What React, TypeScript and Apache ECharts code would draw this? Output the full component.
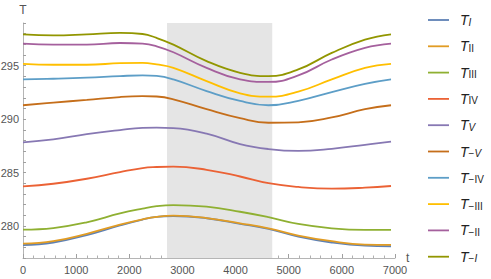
import React, { useEffect, useRef } from "react";
import * as echarts from "echarts";

// time samples (t)
const tValues = [0, 570, 1200, 1825, 2250, 2515, 2830, 3455, 4085, 4620, 5180, 5810, 6435, 6925];

// series values (T) at the samples above
const T_I = [278.2, 278.45, 279.15, 280.05, 280.6, 280.85, 280.93, 280.72, 280.2, 279.72, 279.0, 278.45, 278.15, 278.1];
const T_II = [278.35, 278.58, 279.27, 280.12, 280.62, 280.85, 280.96, 280.74, 280.25, 279.78, 279.1, 278.57, 278.26, 278.23];
const T_III = [279.66, 279.8, 280.34, 281.17, 281.62, 281.85, 281.95, 281.8, 281.33, 280.82, 280.19, 279.78, 279.63, 279.63];
const T_IV = [283.7, 283.95, 284.42, 285.04, 285.42, 285.52, 285.56, 285.26, 284.63, 284.0, 283.65, 283.49, 283.58, 283.74];
const T_V = [287.83, 288.1, 288.6, 288.98, 289.18, 289.2, 289.16, 288.65, 287.67, 287.2, 287.02, 287.22, 287.6, 287.9];
const T_mV = [291.3, 291.55, 291.8, 292.07, 292.15, 292.12, 291.86, 290.93, 290.09, 289.66, 289.7, 290.16, 290.93, 291.3];
const T_mIV = [293.72, 293.78, 293.88, 294.03, 294.1, 294.05, 293.72, 292.63, 291.7, 291.3, 291.72, 292.54, 293.3, 293.72];
const T_mIII = [295.18, 295.09, 295.09, 295.24, 295.27, 295.12, 294.8, 293.56, 292.42, 292.1, 292.57, 293.72, 294.8, 295.18];
const T_mII = [297.07, 296.98, 296.98, 297.13, 297.07, 296.82, 296.26, 294.8, 293.72, 293.48, 294.09, 295.58, 296.67, 297.07];
const T_mI = [297.94, 297.84, 297.94, 298.07, 297.97, 297.6, 296.98, 295.43, 294.34, 294.03, 294.65, 296.2, 297.44, 297.94];

// legend subscripts
const subscripts = ["I", "II", "III", "IV", "V", "−V", "−IV", "−III", "−II", "−I"];
const seriesValues = [T_I, T_II, T_III, T_IV, T_V, T_mV, T_mIV, T_mIII, T_mII, T_mI];
const colors = ["#5E81B5", "#E19C24", "#8FB032", "#EB6235", "#8778B3", "#C56E1A", "#5D9EC7", "#FFBF00", "#A5609D", "#929600"];

// shaded interval on t
const shadedRange = [2710, 4690];

const FONT = "'Liberation Sans', Arial, sans-serif";

function subRich(sub: string): string {
  let out = "";
  let rest = sub;
  if (rest.startsWith("−")) {
    out += "{s|−}";
    rest = rest.slice(1);
  }
  if (rest.length === 1) out += `{si|${rest}}`;
  else out += `{s|${rest}}`;
  return out;
}

export default function App() {
  const ref = useRef<HTMLDivElement>(null);
  useEffect(() => {
    if (!ref.current) return;
    const chart = echarts.init(ref.current, null, { renderer: "svg" });
    const names = subscripts.map((s) => "T" + s);
    const lineSeries = names.map((name, i) => ({
      name,
      type: "line",
      data: tValues.map((t, j) => [t, seriesValues[i][j]]),
      smooth: 0.45,
      symbol: "none",
      showSymbol: false,
      z: 3,
      lineStyle: { color: colors[i], width: 1.8 },
      itemStyle: { color: colors[i] },
    }));
    const option: any = {
      animation: false,
      backgroundColor: "#ffffff",
      grid: { left: 23, right: 96, top: 23, bottom: 21, containLabel: false, outerBoundsMode: "none" },
      legend: {
        data: names,
        orient: "vertical",
        left: 428,
        top: 9,
        padding: 0,
        itemWidth: 21,
        itemHeight: 14,
        itemGap: 4.3,
        icon: "path://M0,0M21,14M0,6.1L21,6.1L21,7.9L0,7.9Z",
        formatter: (name: string) => `{t|T}${subRich(name.slice(1))}`,
        textStyle: {
          color: "#222",
          padding: [0, 0, 0, 6],
          rich: {
            t: { fontSize: 14, fontStyle: "italic", fontFamily: FONT, color: "#222", lineHeight: 14, padding: [4, 0, 4, 0] },
            s: { fontSize: 10, fontFamily: FONT, color: "#222", lineHeight: 10, verticalAlign: "bottom" },
            si: { fontSize: 10, fontStyle: "italic", fontFamily: FONT, color: "#222", lineHeight: 10, verticalAlign: "bottom" },
          },
        },
      },
      xAxis: {
        type: "value",
        min: 0,
        max: 7000,
        interval: 1000,
        name: "t",
        nameLocation: "end",
        nameGap: 11,
        nameTextStyle: { color: "#555", fontSize: 12, fontFamily: FONT },
        axisLine: { show: true, lineStyle: { color: "#b5b5b5", width: 1 } },
        axisTick: { show: true, inside: true, length: 4, lineStyle: { color: "#a0a0a0" } },
        minorTick: { show: true, splitNumber: 5, length: 2.5, lineStyle: { color: "#b0b0b0" } },
        axisLabel: { color: "#555", fontSize: 11, fontFamily: FONT, margin: 6, formatter: (v: number) => String(v) },
        splitLine: { show: false },
      },
      yAxis: {
        type: "value",
        min: 277,
        max: 299,
        interval: 1,
        name: "T",
        nameLocation: "end",
        nameGap: 7,
        nameTextStyle: { color: "#555", fontSize: 12, fontFamily: FONT, align: "center" },
        axisLine: { show: true, lineStyle: { color: "#b5b5b5", width: 1 } },
        axisTick: { show: true, inside: true, length: 3, lineStyle: { color: "#a0a0a0" } },
        axisLabel: {
          color: "#555",
          fontSize: 11,
          fontFamily: FONT,
          margin: 4,
          formatter: (v: number) => (Math.round(v) % 5 === 0 ? String(v) : ""),
        },
        splitLine: { show: false },
      },
      series: [
        {
          name: "shade",
          type: "line",
          data: [],
          z: 1,
          silent: true,
          markArea: {
            silent: true,
            itemStyle: { color: "#e5e5e5" },
            data: [[{ xAxis: shadedRange[0] }, { xAxis: shadedRange[1] }]],
          },
        },
        ...lineSeries,
      ],
    };
    chart.setOption(option);
    return () => chart.dispose();
  }, []);
  return <div ref={ref} style={{ position: "fixed", left: 0, top: 0, width: 491, height: 279 }} />;
}
